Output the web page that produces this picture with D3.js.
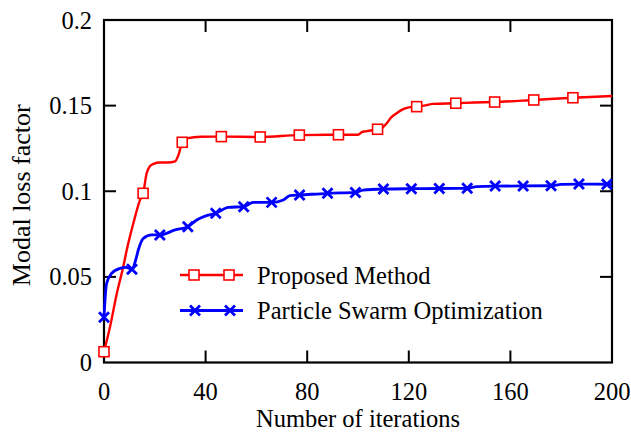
<!DOCTYPE html>
<html>
<head>
<meta charset="utf-8">
<script src="https://cdn.jsdelivr.net/npm/d3@7/dist/d3.min.js"></script>
<style>
  html, body { margin: 0; padding: 0; background: #fff; }
  svg { display: block; }
  text { font-family: "Liberation Serif", "Times New Roman", serif; fill: #000; }
</style>
</head>
<body>
<svg id="chart" width="631" height="434"></svg>
<script>
// ---- data ----
const xTicks = [0, 40, 80, 120, 160, 200];
const yTicks = [0, 0.05, 0.1, 0.15, 0.2];
const yTickLabels = ["0", "0.05", "0.1", "0.15", "0.2"];
const xLabel = "Number of iterations";
const yLabel = "Modal loss factor";
const seriesNames = ["Proposed Method", "Particle Swarm Optimization"];

const redIter  = [0, 2.4, 5, 7.6, 9, 11.5, 14.2, 15.4, 16.8, 18, 19.5, 22, 25, 28, 29.5, 30.8, 33, 38, 46.2, 61.5, 76.9, 92.3, 100, 101.5, 103, 107.7, 109.5, 111.3, 113, 115.2, 117.8, 120, 123.1, 126, 129.6, 138.5, 146, 153.8, 169.2, 184.6, 200];
const redValue = [0.0063, 0.021, 0.040, 0.056, 0.066, 0.081, 0.095, 0.0988, 0.1105, 0.1145, 0.116, 0.1168, 0.1168, 0.1175, 0.122, 0.1286, 0.1310, 0.1318, 0.1319, 0.1317, 0.1328, 0.1330, 0.1330, 0.1345, 0.1350, 0.1362, 0.1370, 0.1397, 0.1430, 0.1455, 0.1480, 0.1490, 0.1494, 0.1500, 0.1510, 0.1514, 0.1518, 0.1521, 0.1533, 0.1546, 0.1556];
const redMarkerIters = [0, 15.4, 30.8, 46.2, 61.5, 76.9, 92.3, 107.7, 123.1, 138.5, 153.8, 169.2, 184.6];

const blueIter  = [0, 1, 3, 6.3, 8.5, 11, 12.5, 13.5, 15.5, 18.8, 22, 28, 33, 36.5, 39.8, 44, 49, 55, 58.8, 66, 70.6, 73.2, 77, 88, 99, 102, 110, 121, 132, 143, 146.7, 154, 165, 176, 180, 187, 198, 200];
const blueValue = [0.0264, 0.046, 0.052, 0.055, 0.0555, 0.0545, 0.060, 0.0657, 0.0725, 0.0745, 0.0745, 0.0774, 0.0793, 0.0832, 0.0855, 0.0871, 0.0906, 0.0910, 0.0935, 0.0935, 0.0949, 0.0975, 0.0978, 0.0988, 0.0993, 0.1007, 0.1013, 0.1015, 0.1016, 0.1017, 0.1027, 0.1030, 0.1031, 0.1032, 0.1040, 0.1042, 0.1041, 0.1041];
const blueMarkerIters = [0, 11, 22, 33, 44, 55, 66, 77, 88, 99, 110, 121, 132, 143, 154, 165, 176, 187, 198];

// ---- layout ----
const svg = d3.select("#chart");
const L = 104, R = 612, T = 20, B = 362.5;
const x = d3.scaleLinear().domain([0, 200]).range([L, R]);
const y = d3.scaleLinear().domain([0, 0.2]).range([B, T]);
const tickLen = 12;
const fontSize = 24.5;

// ticks (inward on all four sides)
const tickG = svg.append("g").attr("stroke", "#000").attr("stroke-width", 2);
xTicks.filter(v => v > 0 && v < 200).forEach(v => {
  tickG.append("line").attr("x1", x(v)).attr("x2", x(v)).attr("y1", B).attr("y2", B - tickLen);
  tickG.append("line").attr("x1", x(v)).attr("x2", x(v)).attr("y1", T).attr("y2", T + tickLen);
});
yTicks.filter(v => v > 0 && v < 0.2).forEach(v => {
  tickG.append("line").attr("x1", L).attr("x2", L + tickLen).attr("y1", y(v)).attr("y2", y(v));
  tickG.append("line").attr("x1", R).attr("x2", R - tickLen).attr("y1", y(v)).attr("y2", y(v));
});

// frame
svg.append("rect").attr("x", L).attr("y", T).attr("width", R - L).attr("height", B - T)
  .attr("fill", "none").attr("stroke", "#000").attr("stroke-width", 2.2);

// tick labels
svg.append("g").selectAll("text").data(xTicks).join("text")
  .attr("x", d => x(d)).attr("y", 400).attr("text-anchor", "middle")
  .attr("font-size", fontSize).text(d => d);
svg.append("g").selectAll("text").data(yTicks).join("text")
  .attr("x", 92).attr("y", d => y(d) + 8.5).attr("text-anchor", "end")
  .attr("font-size", fontSize).text((d, i) => yTickLabels[i]);

// axis titles
svg.append("text").attr("x", (L + R) / 2).attr("y", 427).attr("text-anchor", "middle")
  .attr("font-size", fontSize).text(xLabel);
svg.append("text").attr("transform", `translate(30,${(T + B) / 2 + 4}) rotate(-90)`)
  .attr("text-anchor", "middle").attr("font-size", 26).text(yLabel);

// series
const line = d3.line().x(d => x(d[0])).y(d => y(d[1])).curve(d3.curveMonotoneX);
const redPts = redIter.map((v, i) => [v, redValue[i]]);
const bluePts = blueIter.map((v, i) => [v, blueValue[i]]);

svg.append("path").datum(redPts).attr("d", line)
  .attr("fill", "none").attr("stroke", "#ff0000").attr("stroke-width", 2.4);
svg.append("path").datum(bluePts).attr("d", line)
  .attr("fill", "none").attr("stroke", "#0000ff").attr("stroke-width", 2.8);

const sq = 10;
function square(g, cx, cy) {
  g.append("rect").attr("x", cx - sq / 2).attr("y", cy - sq / 2).attr("width", sq).attr("height", sq)
    .attr("fill", "#fff").attr("stroke", "#ff0000").attr("stroke-width", 1.6);
}
const xs = 5;
function cross(g, cx, cy) {
  g.append("path").attr("d", `M${cx - xs},${cy - xs}L${cx + xs},${cy + xs}M${cx - xs},${cy + xs}L${cx + xs},${cy - xs}`)
    .attr("stroke", "#0000ff").attr("stroke-width", 2.8).attr("fill", "none");
}
const blueMarkG = svg.append("g");
bluePts.filter(p => blueMarkerIters.includes(p[0])).forEach(p => cross(blueMarkG, x(p[0]), y(p[1])));
const redMarkG = svg.append("g");
redPts.filter(p => redMarkerIters.includes(p[0])).forEach(p => square(redMarkG, x(p[0]), y(p[1])));

// legend
const lg = svg.append("g");
lg.append("line").attr("x1", 180).attr("x2", 243).attr("y1", 275).attr("y2", 275)
  .attr("stroke", "#ff0000").attr("stroke-width", 2.4);
square(lg, 194, 275); square(lg, 229, 275);
lg.append("text").attr("x", 257).attr("y", 283.5).attr("font-size", fontSize).text(seriesNames[0]);
lg.append("line").attr("x1", 180).attr("x2", 243).attr("y1", 310.5).attr("y2", 310.5)
  .attr("stroke", "#0000ff").attr("stroke-width", 2.8);
cross(lg, 195, 310.5); cross(lg, 230, 310.5);
lg.append("text").attr("x", 257).attr("y", 319).attr("font-size", fontSize).text(seriesNames[1]);
</script>
</body>
</html>
